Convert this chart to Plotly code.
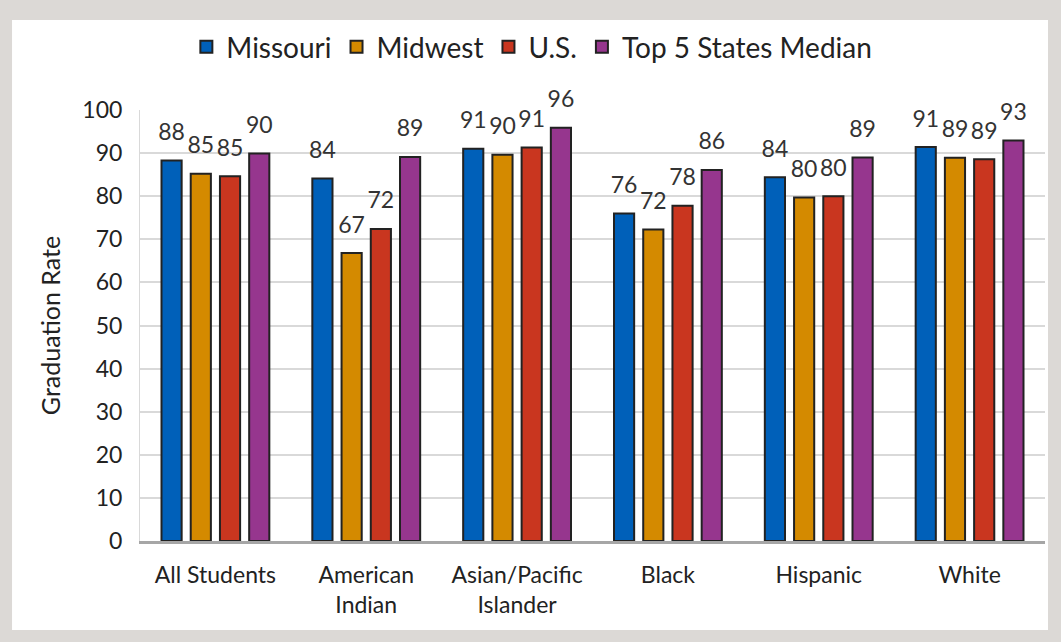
import plotly.graph_objects as go

groups = ["All Students", "American<br>Indian", "Asian/Pacific<br>Islander", "Black", "Hispanic", "White"]

missouri = [88.3, 84.1, 91.0, 76.0, 84.4, 91.4]
midwest = [85.2, 66.8, 89.6, 72.3, 79.7, 88.9]
us = [84.6, 72.4, 91.3, 77.8, 80.0, 88.6]
top5 = [89.9, 89.1, 95.9, 86.1, 89.0, 92.9]

series = [
    ("Missouri", missouri, "#0060b9"),
    ("Midwest", midwest, "#d48a00"),
    ("U.S.", us, "#c9361f"),
    ("Top 5 States Median", top5, "#96368e"),
]

FONT = "Lato, Open Sans, sans-serif"
GAP = 0.225

fig = go.Figure()
for name, vals, color in series:
    fig.add_trace(go.Bar(
        x=groups, y=vals, name=name, offsetgroup=name,
        marker=dict(color=color, line=dict(color="#222222", width=2)),
    ))
# value labels, grouped like the bars so they sit a little above each bar
for name, vals, color in series:
    fig.add_trace(go.Scatter(
        x=groups, y=vals, offsetgroup=name, showlegend=False,
        mode="markers+text", marker=dict(size=22, opacity=0),
        text=[f"{v:.0f}" for v in vals], textposition="top center",
        textfont=dict(size=23, color="#333333", family=FONT),
        cliponaxis=False, hoverinfo="skip",
    ))

# white panel over the grey background
fig.add_shape(type="rect", xref="paper", yref="paper",
              x0=-0.1414, x1=1.0033, y0=-0.2065, y1=1.2088,
              fillcolor="white", line_width=0, layer="below")

fig.update_layout(
    width=1061, height=642,
    barmode="group", bargap=GAP, bargroupgap=0.31,
    scattermode="group", scattergap=GAP,
    paper_bgcolor="#dcd9d6", plot_bgcolor="white",
    margin=dict(l=140, r=16, t=110, b=101),
    font=dict(family=FONT, color="#222222"),
    legend=dict(orientation="h", x=0.433, xanchor="center", y=1.146, yanchor="middle",
                font=dict(size=28), bgcolor="rgba(0,0,0,0)", itemwidth=30,
                traceorder="normal"),
)
fig.update_yaxes(range=[0, 100], dtick=10, showgrid=True, gridcolor="#d9d9d9", gridwidth=1.5,
                 showline=True, linecolor="#d9d9d9", zeroline=False,
                 tickfont=dict(size=23), ticks="", ticklabelstandoff=12,
                 title=dict(text="Graduation Rate", font=dict(size=25), standoff=14))
fig.update_xaxes(showline=True, linecolor="#a6a6a6", linewidth=2.5, ticks="",
                 tickfont=dict(size=23), ticklabelstandoff=12)

fig.write_html("out.html", config={"displayModeBar": False},
               post_script="document.body.style.margin='0';")
